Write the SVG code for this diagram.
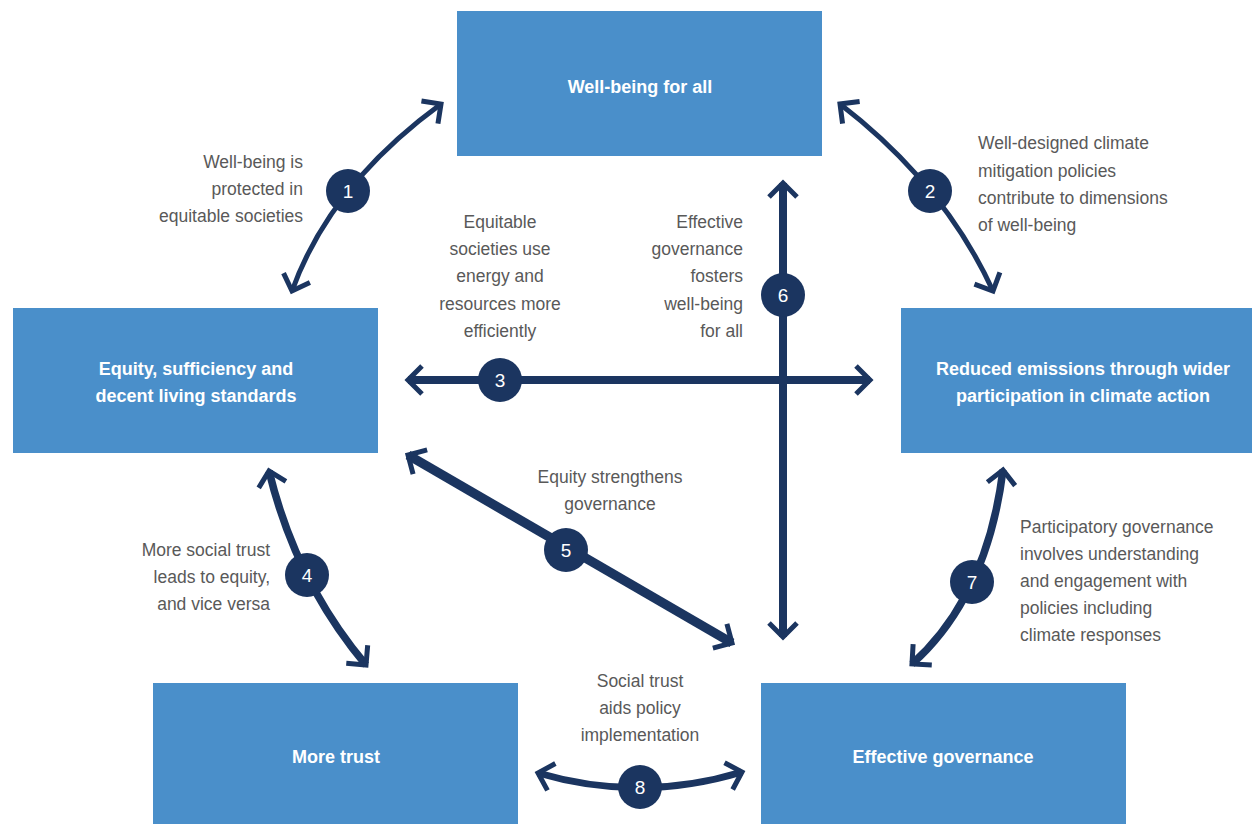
<svg xmlns="http://www.w3.org/2000/svg" width="1252" height="824" viewBox="0 0 1252 824">
<style>
.box{fill:#4a8fca}
.bt{font-family:"Liberation Sans",Arial,sans-serif;font-weight:bold;font-size:18px;fill:#fff;text-anchor:middle}
.lb{font-family:"Liberation Sans",Arial,sans-serif;font-size:17.5px;fill:#595959}
.c{fill:#1b3560}
.ct{font-family:"Liberation Sans",Arial,sans-serif;font-size:19px;fill:#fff;text-anchor:middle}
.ln{fill:none;stroke:#1b3560;marker-start:url(#ah);marker-end:url(#ah)}
</style>
<defs>
<marker id="ah" markerUnits="userSpaceOnUse" viewBox="-30 -20 40 40" markerWidth="40" markerHeight="40" refX="0" refY="0" orient="auto-start-reverse">
<path d="M -14 -14 L 0 0 L -14 14" fill="none" stroke="#1b3560" stroke-width="5"/>
</marker>
</defs>
<rect width="1252" height="824" fill="#fff"/>
<g id="connectors">
<path class="ln" stroke-width="5" d="M 292 291 Q 330 185 441 104"/>
<path class="ln" stroke-width="5" d="M 840 104 Q 944 184 993 291"/>
<path class="ln" stroke-width="8" d="M 408 380 L 870 380"/>
<path class="ln" stroke-width="8" d="M 783 183 L 783 637"/>
<path class="ln" stroke-width="9.5" d="M 408 455 L 732 643"/>
<path class="ln" stroke-width="7.5" d="M 269 471 Q 296 582 366 665"/>
<path class="ln" stroke-width="7.5" d="M 1003 470 Q 987 597 912 664"/>
<path class="ln" stroke-width="7" d="M 538 773 Q 640 803 742 772"/>
</g>
<g id="n1"><rect class="box" x="457" y="11" width="365" height="145"/><text class="bt" x="640" y="93">Well-being for all</text></g>
<g id="n2"><rect class="box" x="13" y="308" width="365" height="145"/><text class="bt" x="196" y="375">Equity, sufficiency and</text><text class="bt" x="196" y="402">decent living standards</text></g>
<g id="n3"><rect class="box" x="901" y="308" width="351" height="145"/><text class="bt" x="1083" y="375">Reduced emissions through wider</text><text class="bt" x="1083" y="402">participation in climate action</text></g>
<g id="n4"><rect class="box" x="153" y="683" width="365" height="141"/><text class="bt" x="336" y="763">More trust</text></g>
<g id="n5"><rect class="box" x="761" y="683" width="365" height="141"/><text class="bt" x="943" y="763">Effective governance</text></g>
<g id="labels">
<text class="lb" text-anchor="end" x="303" y="168">Well-being is</text>
<text class="lb" text-anchor="end" x="303" y="195">protected in</text>
<text class="lb" text-anchor="end" x="303" y="222">equitable societies</text>
<text class="lb" text-anchor="middle" x="500" y="228">Equitable</text>
<text class="lb" text-anchor="middle" x="500" y="255">societies use</text>
<text class="lb" text-anchor="middle" x="500" y="282">energy and</text>
<text class="lb" text-anchor="middle" x="500" y="310">resources more</text>
<text class="lb" text-anchor="middle" x="500" y="337">efficiently</text>
<text class="lb" text-anchor="end" x="743" y="228">Effective</text>
<text class="lb" text-anchor="end" x="743" y="255">governance</text>
<text class="lb" text-anchor="end" x="743" y="282">fosters</text>
<text class="lb" text-anchor="end" x="743" y="310">well-being</text>
<text class="lb" text-anchor="end" x="743" y="337">for all</text>
<text class="lb" x="978" y="149">Well-designed climate</text>
<text class="lb" x="978" y="177">mitigation policies</text>
<text class="lb" x="978" y="204">contribute to dimensions</text>
<text class="lb" x="978" y="231">of well-being</text>
<text class="lb" text-anchor="middle" x="610" y="483">Equity strengthens</text>
<text class="lb" text-anchor="middle" x="610" y="510">governance</text>
<text class="lb" text-anchor="end" x="270" y="556">More social trust</text>
<text class="lb" text-anchor="end" x="270" y="583">leads to equity,</text>
<text class="lb" text-anchor="end" x="270" y="610">and vice versa</text>
<text class="lb" x="1020" y="533">Participatory governance</text>
<text class="lb" x="1020" y="560">involves understanding</text>
<text class="lb" x="1020" y="587">and engagement with</text>
<text class="lb" x="1020" y="614">policies including</text>
<text class="lb" x="1020" y="641">climate responses</text>
<text class="lb" text-anchor="middle" x="640" y="687">Social trust</text>
<text class="lb" text-anchor="middle" x="640" y="714">aids policy</text>
<text class="lb" text-anchor="middle" x="640" y="741">implementation</text>
</g>
<g id="badges">
<circle class="c" cx="348" cy="191" r="22"/><text class="ct" x="348" y="198">1</text>
<circle class="c" cx="930" cy="191" r="22"/><text class="ct" x="930" y="198">2</text>
<circle class="c" cx="500" cy="380" r="22"/><text class="ct" x="500" y="387">3</text>
<circle class="c" cx="307" cy="575" r="22"/><text class="ct" x="307" y="582">4</text>
<circle class="c" cx="566" cy="550" r="22"/><text class="ct" x="566" y="557">5</text>
<circle class="c" cx="783" cy="295" r="22"/><text class="ct" x="783" y="302">6</text>
<circle class="c" cx="972" cy="582" r="22"/><text class="ct" x="972" y="589">7</text>
<circle class="c" cx="640" cy="787" r="22"/><text class="ct" x="640" y="794">8</text>
</g>
</svg>
